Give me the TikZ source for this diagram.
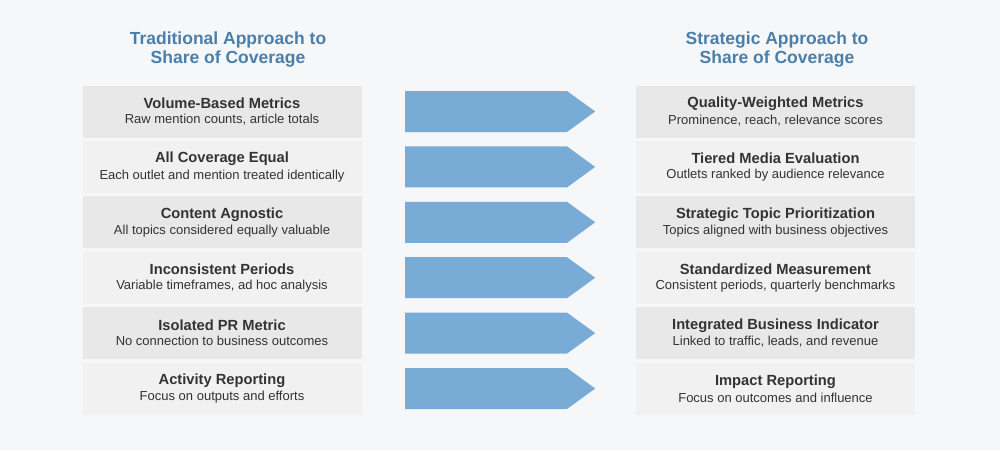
\documentclass[tikz,border=0pt]{standalone}
\usepackage{fontspec}
\setmainfont{Liberation Sans}
\usetikzlibrary{shapes.symbols}
\definecolor{bgcol}{HTML}{F5F7F9}
\definecolor{titleblue}{HTML}{4A7FAB}
\definecolor{boxdark}{HTML}{E8E8E8}
\definecolor{boxlight}{HTML}{F1F1F1}
\definecolor{arrowblue}{HTML}{78ACD6}
\definecolor{textdark}{HTML}{333333}
\begin{document}
\begin{tikzpicture}[x=1pt,y=-1pt,
    head/.style={font=\bfseries\fontsize{17.5}{19}\selectfont,text=titleblue,align=center},
    item/.style={minimum width=279pt,minimum height=52pt,align=center,inner sep=0pt,text=textdark},
    shift arrow/.style={signal,signal to=east,fill=arrowblue,minimum width=190pt,minimum height=41pt,signal pointer angle=72,inner sep=0pt,anchor=west}]
    \fill[bgcol] (0,0) rectangle (1000,450);
    \node[head] (lt) at (228,50) {Traditional Approach to\\Share of Coverage};
    \node[head] (rt) at (777,50) {Strategic Approach to\\Share of Coverage};

    \foreach \lh/\ls/\rh/\rs [count=\n] in {
        Volume-Based Metrics/{Raw mention counts, article totals}/Quality-Weighted Metrics/{Prominence, reach, relevance scores},
        All Coverage Equal/Each outlet and mention treated identically/Tiered Media Evaluation/Outlets ranked by audience relevance,
        Content Agnostic/All topics considered equally valuable/Strategic Topic Prioritization/Topics aligned with business objectives,
        Inconsistent Periods/{Variable timeframes, ad hoc analysis}/Standardized Measurement/{Consistent periods, quarterly benchmarks},
        Isolated PR Metric/No connection to business outcomes/Integrated Business Indicator/{Linked to traffic, leads, and revenue},
        Activity Reporting/Focus on outputs and efforts/Impact Reporting/Focus on outcomes and influence} {
        \pgfmathsetmacro{\yy}{111.5+55.4*(\n-1)}
        \pgfmathtruncatemacro{\odd}{mod(\n,2)}
        \ifnum\odd=1 \def\bc{boxdark}\else\def\bc{boxlight}\fi
        \node[item,fill=\bc] (l\n) at (222,\yy) {{\bfseries\fontsize{14.7}{16}\selectfont\lh}\\[3pt]{\fontsize{13}{15}\selectfont\ls}};
        \node[item,fill=\bc] (r\n) at (775.5,\yy) {{\bfseries\fontsize{14.7}{16}\selectfont\rh}\\[3pt]{\fontsize{13}{15}\selectfont\rs}};
        \node[shift arrow] (a\n) at (405,\yy) {};
    }
\end{tikzpicture}
\end{document}
